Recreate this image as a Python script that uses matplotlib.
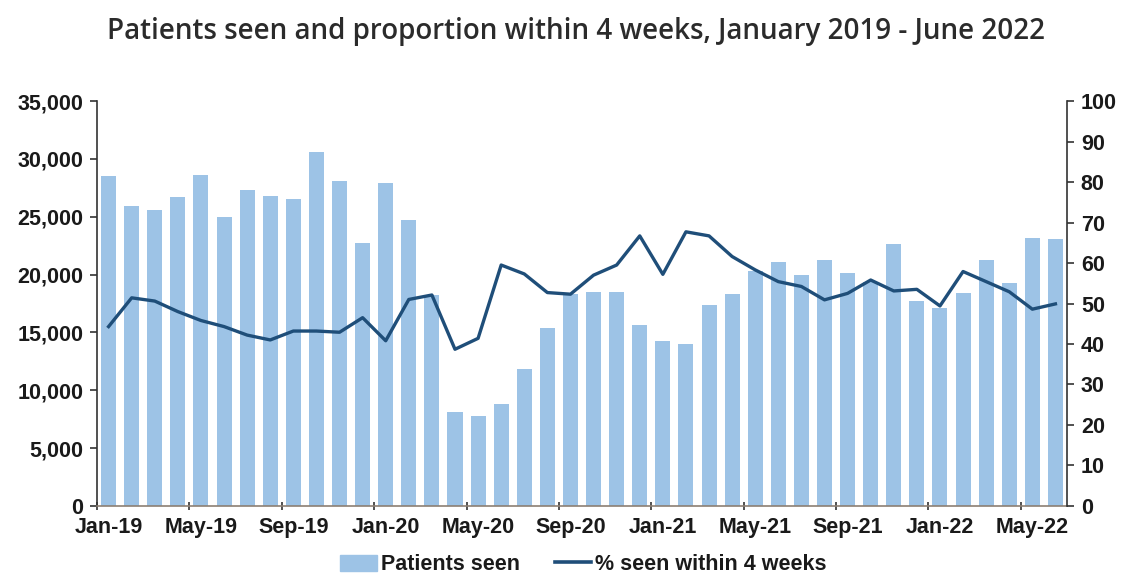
import matplotlib.pyplot as plt
from matplotlib.lines import Line2D
from matplotlib.patches import Patch
from matplotlib.ticker import FuncFormatter, FixedLocator

months = ['Jan-19', 'Feb-19', 'Mar-19', 'Apr-19', 'May-19', 'Jun-19', 'Jul-19', 'Aug-19',
          'Sep-19', 'Oct-19', 'Nov-19', 'Dec-19', 'Jan-20', 'Feb-20', 'Mar-20', 'Apr-20',
          'May-20', 'Jun-20', 'Jul-20', 'Aug-20', 'Sep-20', 'Oct-20', 'Nov-20', 'Dec-20',
          'Jan-21', 'Feb-21', 'Mar-21', 'Apr-21', 'May-21', 'Jun-21', 'Jul-21', 'Aug-21',
          'Sep-21', 'Oct-21', 'Nov-21', 'Dec-21', 'Jan-22', 'Feb-22', 'Mar-22', 'Apr-22',
          'May-22', 'Jun-22']

patients_seen = [28500, 25900, 25600, 26700, 28600, 25000, 27300, 26800,
                 26500, 30600, 28100, 22700, 27900, 24700, 18200, 8100,
                 7800, 8800, 11800, 15400, 18300, 18500, 18500, 15600,
                 14300, 14000, 17400, 18300, 20300, 21100, 20000, 21300,
                 20100, 19400, 22600, 17700, 17100, 18400, 21300, 19300,
                 23200, 23100]

pct_within_4wk = [44.3, 51.4, 50.6, 48.0, 45.8, 44.3, 42.2, 41.0,
                  43.2, 43.2, 42.9, 46.5, 40.8, 51.0, 52.1, 38.7,
                  41.4, 59.5, 57.3, 52.7, 52.3, 57.0, 59.5, 66.7,
                  57.2, 67.7, 66.7, 61.6, 58.3, 55.4, 54.2, 50.9,
                  52.5, 55.8, 53.1, 53.5, 49.4, 57.9, 55.4, 52.9,
                  48.6, 49.9]

bar_col = '#9dc3e6'
line_col = '#1f4e79'
fs = 15.5

plt.rcParams['font.family'] = ['Liberation Sans', 'DejaVu Sans']

fig = plt.figure(figsize=(11.31, 5.74), dpi=100)
ax = fig.add_axes([0.0858, 0.1185, 0.8576, 0.7055])
ax2 = ax.twinx()

x = list(range(len(months)))
ax.bar(x, patients_seen, width=0.65, color=bar_col, zorder=2)
ax2.plot(x, pct_within_4wk, color=line_col, lw=2.4, zorder=3)

ax.set_xlim(-0.5, len(months) - 0.5)
ax.set_ylim(0, 35000)
ax2.set_ylim(0, 100)
ax.set_yticks(range(0, 35001, 5000))
ax2.set_yticks(range(0, 101, 10))
ax.yaxis.set_major_formatter(FuncFormatter(lambda v, p: f'{int(v):,}'))

# labels sit on the month, tick marks on the month boundaries
lab_pos = x[::4]
ax.set_xticks(lab_pos)
ax.set_xticklabels([months[i] for i in lab_pos])
ax.xaxis.set_minor_locator(FixedLocator([i - 0.5 for i in lab_pos]))
ax.tick_params(axis='x', which='major', length=0, pad=8)
ax.tick_params(axis='x', which='minor', length=6, width=1.2, color='#333333', direction='inout')

for a in (ax, ax2):
    a.spines['top'].set_visible(False)
    a.spines['left'].set_color('#333333')
    a.spines['right'].set_color('#333333')
    a.spines['bottom'].set_color('#8c7f73')
    a.spines['left'].set_linewidth(1.2)
    a.spines['right'].set_linewidth(1.2)
    a.spines['bottom'].set_linewidth(1.2)
    a.tick_params(axis='y', length=5, width=1.2, color='#333333', pad=5)
    for t in a.get_yticklabels() + a.get_xticklabels():
        t.set_fontweight('bold')
        t.set_fontsize(fs)
        t.set_color('#1a1a1a')
ax2.spines['left'].set_visible(False)
ax2.spines['bottom'].set_visible(False)
ax.spines['right'].set_visible(False)

fig.text(0.509, 0.945, 'Patients seen and proportion within 4 weeks, January 2019 - June 2022',
         ha='center', va='center', fontsize=20, fontweight='semibold', color='#2b2b2b',
         family='Open Sans')

handles = [Patch(color=bar_col, label='Patients seen'),
           Line2D([], [], color=line_col, lw=2.6, label='% seen within 4 weeks')]
leg = fig.legend(handles=handles, loc='center', bbox_to_anchor=(0.516, 0.016), ncol=2,
                 frameon=False, handlelength=1.7, handleheight=0.8, columnspacing=1.6,
                 handletextpad=0.2, prop={'weight': 'bold', 'size': fs})
for t in leg.get_texts():
    t.set_color('#1a1a1a')

fig.savefig('out.png', dpi=100)
